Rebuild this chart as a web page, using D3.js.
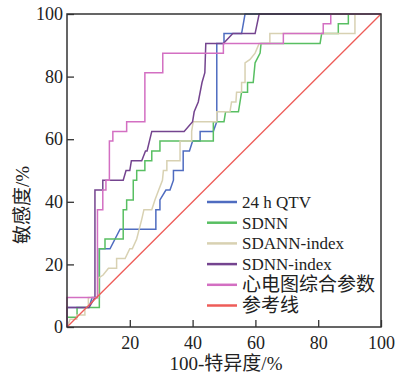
<!DOCTYPE html>
<html>
<head>
<meta charset="utf-8">
<script src="https://cdn.jsdelivr.net/npm/d3@7"></script>
<style>
  body { margin: 0; background: #fff; }
  svg text { fill: #222; }
</style>
</head>
<body>
<svg width="397" height="375"></svg>
<script>
// ROC 曲线数据: [100-特异度, 敏感度]
var qtv = [[0,0],[0,6.25],[7,6.25],[8,9.4],[10.3,9.4],[10.3,25],[13.7,25],[16.9,31.25],[28.3,31.25],[28.3,37.5],
  [29.6,37.5],[29.6,40.6],[31.5,43.75],[32.8,43.75],[33.9,46.9],[33.9,50],[37,50],[37,56.25],[39,56.25],[40,59.4],
  [42.4,59.4],[42.4,62.5],[46.6,62.5],[47.7,65.6],[47.7,90.6],[50,90.6],[50,93.75],[55.6,93.75],[56.7,100],[100,100]];

var sdnn = [[0,0],[0,3.1],[3.2,3.1],[3.2,6.25],[10.3,6.25],[10.3,25],[12.1,25],[12.1,28.1],[17.9,28.1],[17.9,37.5],
  [19,37.5],[19,40.6],[21.1,40.6],[21.1,46.9],[22.2,46.9],[22.2,50],[24.8,50],[24.8,53.1],[27,53.1],[27,56.25],
  [29.6,56.25],[29.6,59.4],[46.6,59.4],[46.6,65.6],[50,65.6],[50.5,68.75],[54.6,68.75],[55.6,75],[57.5,75],[57.5,78.1],
  [59.3,78.1],[59.9,84.4],[61.5,87.5],[61.8,90.6],[80.6,90.6],[81.1,93.75],[86.4,93.75],[86.4,96.9],[89.6,96.9],
  [89.6,100],[100,100]];

var sdann = [[0,0],[1,2.5],[3.1,2.5],[3.1,3.8],[5.7,3.8],[5.7,6.25],[6.8,6.25],[6.8,9.4],[10,9.4],[10,15.6],
  [11.5,16.6],[13.2,18.75],[15.8,18.75],[15.8,21.9],[18.5,21.9],[20,25],[20.8,25],[22.2,28.1],[23,31.25],[23.8,34.4],
  [24.5,37.5],[27,37.5],[28,40.6],[29.2,43.75],[30.4,46.9],[30.7,50],[31.8,50],[31.8,53.1],[36,53.1],[36,59.4],
  [39.7,59.4],[39.7,62.5],[40.2,65.6],[47.7,65.6],[47.7,68.75],[51.9,68.75],[52.4,71.9],[53.8,71.9],[54,75],[55.6,75],
  [55.6,78.1],[56.7,78.1],[56.7,84.4],[58.3,85.5],[59.9,87.5],[61.2,90.6],[64.6,90.6],[64.6,93.75],[91.7,93.75],
  [91.7,100],[100,100]];

var sdnnIndex = [[0,0],[0,6.25],[7,6.25],[8.9,9.4],[8.9,43.75],[11.4,43.75],[11.4,46.9],[17.9,46.9],[18.8,50],[20,50],
  [20.5,53.1],[23.8,53.1],[25,56.25],[25.5,56.25],[27,62.5],[37.3,62.5],[40,65.6],[40.5,68.75],[41.8,71.9],[43,78.1],
  [43.9,81.25],[44.2,90.6],[49.8,90.6],[52.8,93.75],[59.9,93.75],[61.2,100],[100,100]];

var ecg = [[0,0],[0,9.4],[9.7,9.4],[9.7,37.5],[11.4,37.5],[11.4,43.75],[12.4,43.75],[12.4,46.9],[13.5,46.9],[13.5,59.4],
  [14.6,59.4],[14.6,62.5],[19,62.5],[19,65.6],[24.8,65.6],[24.8,81.25],[30.5,81.25],[30.5,87.5],[49.8,87.5],[49.8,90.6],
  [68.9,90.6],[68.9,93.75],[81.6,93.75],[81.6,96.9],[84,96.9],[84,100],[100,100]];

var refLine = [[0,0],[100,100]];

var names = ["24 h QTV", "SDNN", "SDANN-index", "SDNN-index", "心电图综合参数", "参考线"];
var colors = ["#4f6cc0", "#58bf62", "#d8d1b2", "#74448f", "#d36fc2", "#ee5c58"];
var series = [qtv, sdnn, sdann, sdnnIndex, ecg, refLine];

var xTicks = [20, 40, 60, 80, 100],
    yTicks = [0, 20, 40, 60, 80, 100];

var svg = d3.select("svg"),
    margin = {top: 14, right: 16, bottom: 48, left: 67},
    width = +svg.attr("width") - margin.left - margin.right,
    height = +svg.attr("height") - margin.top - margin.bottom;

var x = d3.scaleLinear().domain([0, 100]).range([0, width]),
    y = d3.scaleLinear().domain([0, 100]).range([height, 0]);

var g = svg.append("g")
    .attr("transform", "translate(" + margin.left + "," + margin.top + ")");

var serif = "'Liberation Serif','Noto Sans CJK SC',serif";

// 坐标轴 (刻度朝内)
var xAxis = g.append("g")
    .attr("transform", "translate(0," + height + ")")
    .call(d3.axisBottom(x).tickValues(xTicks).tickSizeInner(-7).tickSizeOuter(0).tickPadding(9));
var yAxis = g.append("g")
    .call(d3.axisLeft(y).tickValues(yTicks).tickSizeInner(-7).tickSizeOuter(0).tickPadding(4));

[xAxis, yAxis].forEach(function(a) {
    a.select(".domain").remove();
    a.selectAll("line").attr("stroke", "#333").attr("stroke-width", 1.3);
    a.selectAll("text").style("font-family", serif).style("font-size", "18px").attr("fill", "#222");
});

var line = d3.line()
    .x(function(d) { return x(d[0]); })
    .y(function(d) { return y(d[1]); });

series.forEach(function(s, i) {
    g.append("path")
        .datum(s)
        .attr("fill", "none")
        .attr("stroke", colors[i])
        .attr("stroke-width", i === 5 ? 1.3 : 1.5)
        .attr("d", line);
});

// 边框
g.append("rect")
    .attr("width", width)
    .attr("height", height)
    .attr("fill", "none")
    .attr("stroke", "#333")
    .attr("stroke-width", 1.5);

// 图例
var legend = g.append("g").attr("transform", "translate(" + (207 - margin.left) + "," + (202 - margin.top) + ")");
names.forEach(function(n, i) {
    var row = legend.append("g").attr("transform", "translate(0," + (i * 20.7) + ")");
    row.append("line")
        .attr("x1", 0).attr("x2", 30)
        .attr("stroke", colors[i])
        .attr("stroke-width", 2.5);
    row.append("text")
        .attr("x", 35)
        .attr("dy", "0.35em")
        .style("font-family", serif)
        .style("font-size", /[\u4e00-\u9fff]/.test(n) ? "19px" : "17px")
        .text(n);
});

// 轴标题
svg.append("text")
    .attr("x", margin.left + width / 2 + 2)
    .attr("y", 363)
    .attr("dy", "0.35em")
    .attr("text-anchor", "middle")
    .style("font-family", serif)
    .style("font-size", "19px")
    .text("100-特异度/%");

svg.append("text")
    .attr("transform", "rotate(-90)")
    .attr("x", -205)
    .attr("y", 22)
    .attr("dy", "0.35em")
    .attr("text-anchor", "middle")
    .style("font-family", serif)
    .style("font-size", "19px")
    .text("敏感度/%");
</script>
</body>
</html>
